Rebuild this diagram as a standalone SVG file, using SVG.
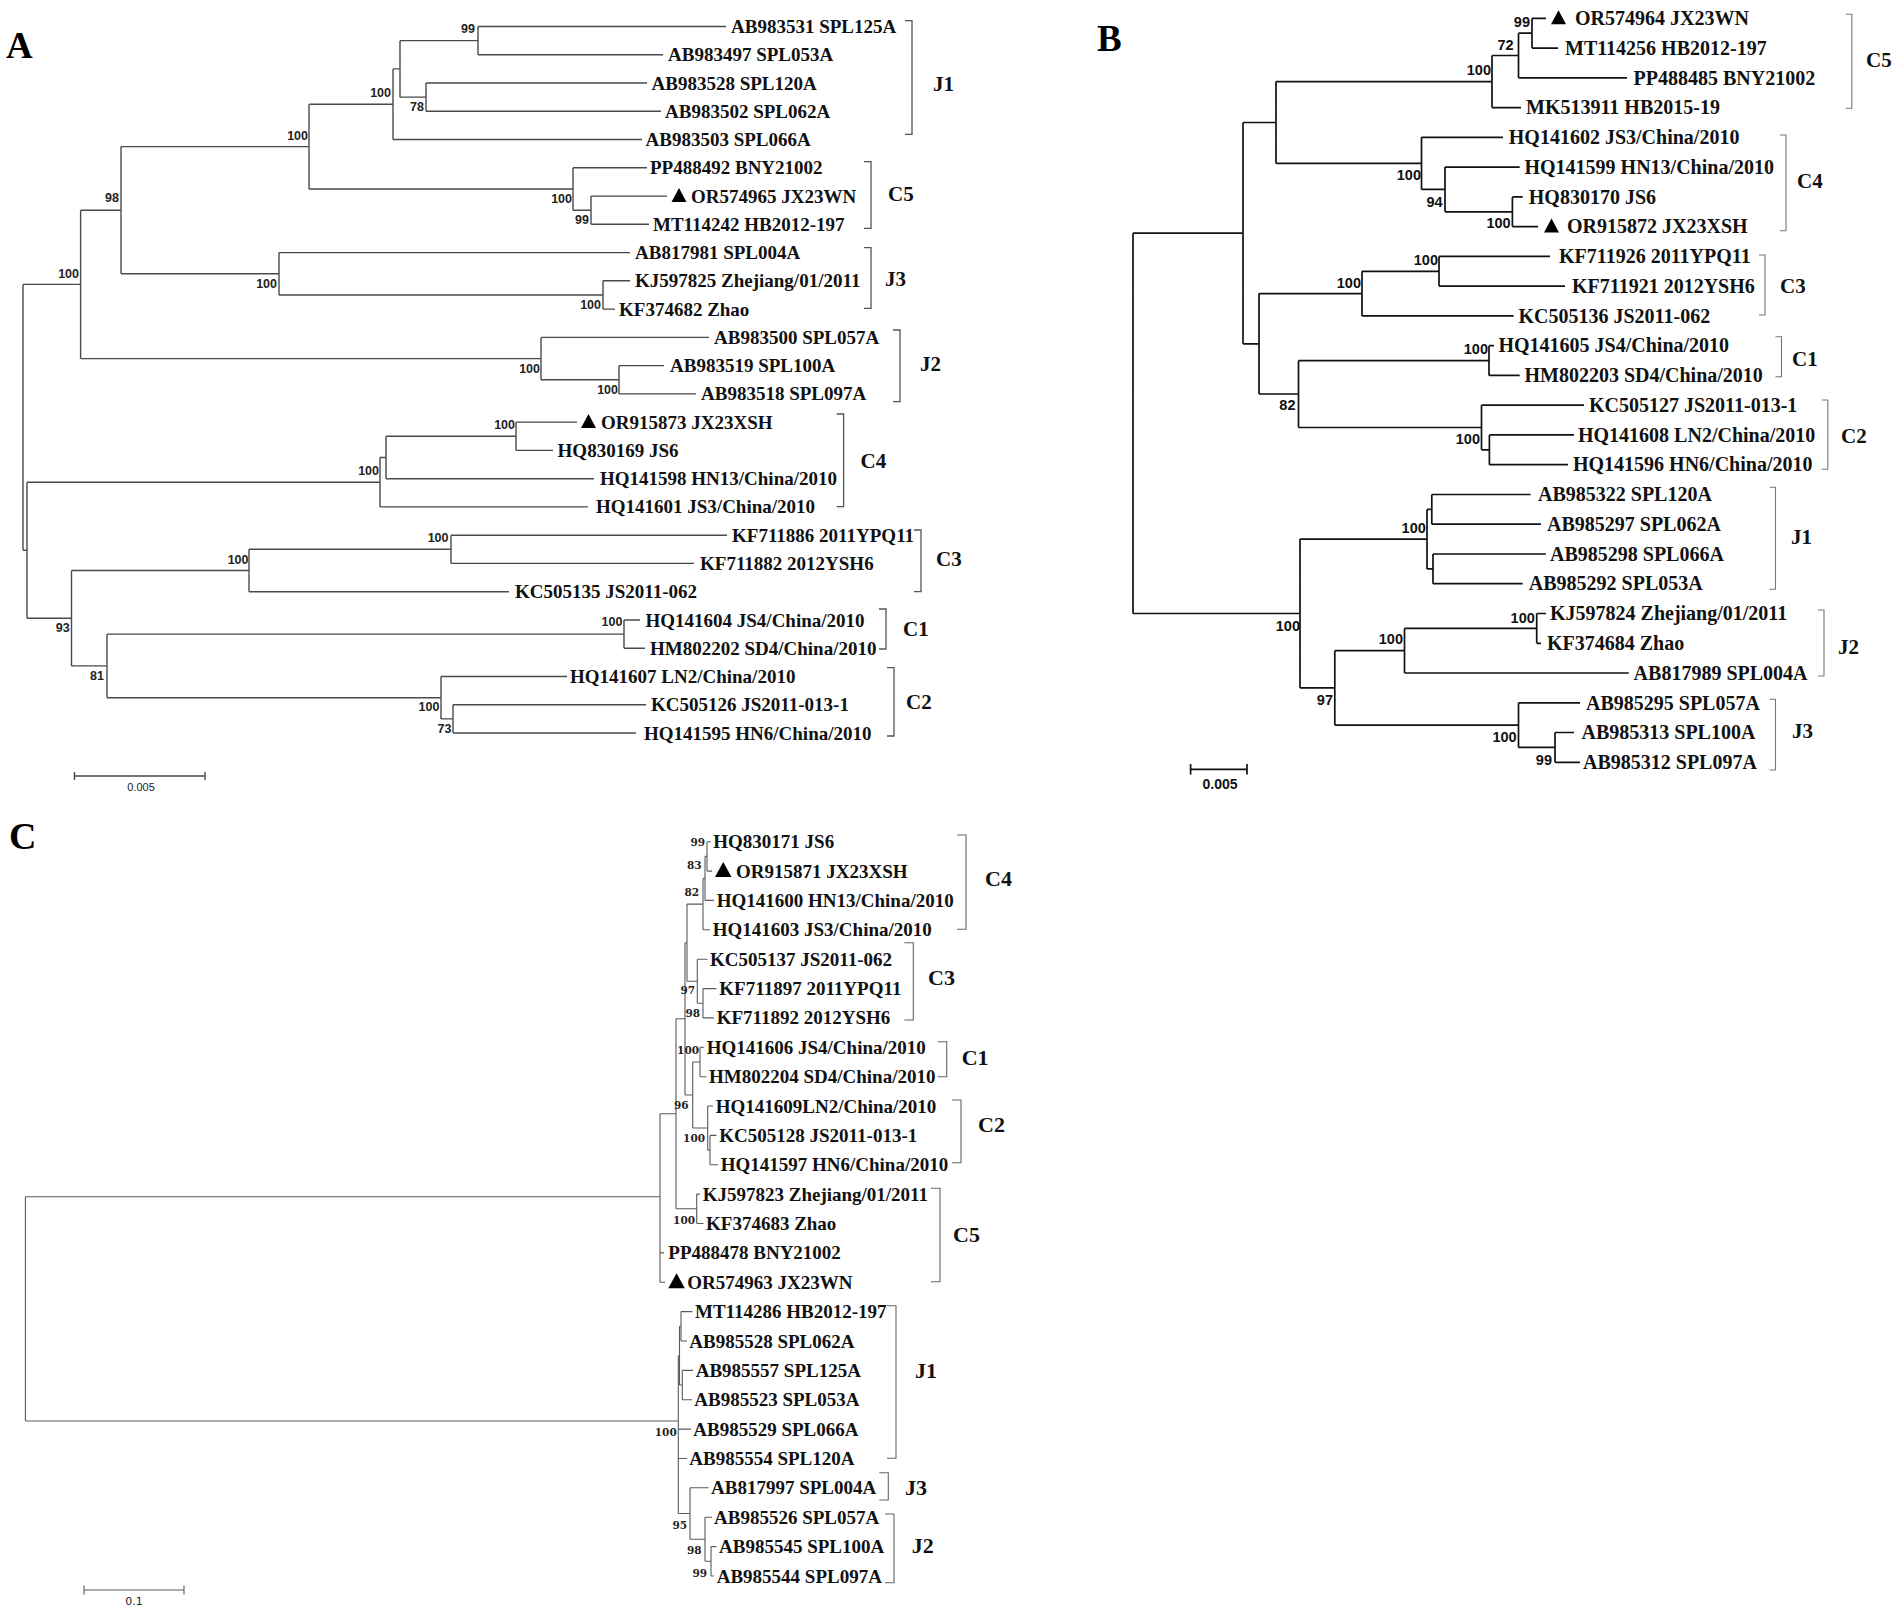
<svg xmlns="http://www.w3.org/2000/svg" xmlns:xlink="http://www.w3.org/1999/xlink" width="1902" height="1613" viewBox="0 0 1902 1613">
<style>
.bg{fill:#fff}
.ta{stroke:#4a4a4a;stroke-width:1.4;fill:none}
.tb{stroke:#111;stroke-width:1.7;fill:none}
.tc{stroke:#5a5a5a;stroke-width:1.1;fill:none}
.bra{stroke:#555;stroke-width:1.3;fill:none}
.brb{stroke:#777;stroke-width:1.1;fill:none}
.brc{stroke:#666;stroke-width:1.1;fill:none}
.lf{font-family:"Liberation Serif","Times New Roman",serif;font-weight:bold;font-size:19px;fill:#111}
.lfb{font-family:"Liberation Serif","Times New Roman",serif;font-weight:bold;font-size:20px;fill:#111}
.cl{font-family:"Liberation Serif","Times New Roman",serif;font-weight:bold;font-size:21px;fill:#111}
.clc{font-family:"Liberation Serif","Times New Roman",serif;font-weight:bold;font-size:22px;fill:#111}
.pl{font-family:"Liberation Serif","Times New Roman",serif;font-weight:bold;font-size:37px;fill:#000}
.bsa{font-family:"Liberation Sans",Arial,sans-serif;font-weight:bold;font-size:12.5px;fill:#222;text-anchor:end}
.bsb{font-family:"Liberation Sans",Arial,sans-serif;font-weight:bold;font-size:14.5px;fill:#111;text-anchor:end}
.bsc{font-family:"DejaVu Serif",serif;font-weight:bold;font-size:10.5px;fill:#222;text-anchor:end}
.sca{font-family:"Liberation Sans",Arial,sans-serif;font-size:11px;fill:#222;text-anchor:middle}
.scb{font-family:"Liberation Sans",Arial,sans-serif;font-weight:bold;font-size:14px;fill:#111;text-anchor:middle}
.scc{font-family:"DejaVu Sans",sans-serif;font-size:11px;fill:#222;text-anchor:middle}
.tri{fill:#000}
</style>
<defs>
<path id="tri" d="M0,0 L15,0 L7.5,-14 Z"/>
<path id="tric" d="M0,0 L16.5,0 L8.25,-15 Z"/>
</defs>
<rect class="bg" x="0" y="0" width="1902" height="1613"/>

<!-- ================= PANEL A ================= -->
<g id="panelA">
<text id="A-title" class="pl" x="6" y="58">A</text>
<g id="A-connectors">
<path class="ta" d="M23,284.4 V550.2 M23,284.4 H80.6 M23,550.2 H27
M80.6,210.2 V358.6 M80.6,210.2 H121 M80.6,358.6 H541
M121,146.6 V273.8 M121,146.6 H309 M121,273.8 H279
M309,104.2 V189 M309,104.2 H393 M309,189 H573
M393,68.9 V139.5 M393,68.9 H400 M393,139.5 H642
M400,40.65 V97.15 M400,40.65 H478 M400,97.15 H426
M478,26.5 V54.8 M478,26.5 H726 M478,54.8 H663
M426,83 V111.3 M426,83 H647 M426,111.3 H661
M573,167.8 V210.2 M573,167.8 H647 M573,210.2 H591
M591,196.1 V224.3 M591,196.1 H667 M591,224.3 H649
M279,252.6 V295 M279,252.6 H630 M279,295 H603
M603,280.8 V309.1 M603,280.8 H630 M603,309.1 H615
M541,337.4 V379.8 M541,337.4 H709 M541,379.8 H619
M619,365.6 V393.9 M619,365.6 H664 M619,393.9 H696
M27,482.2 V618.2 M27,482.2 H380 M27,618.2 H71.5
M380,457.5 V506.9 M380,457.5 H386 M380,506.9 H588
M386,436.3 V478.7 M386,436.3 H516 M386,478.7 H594
M516,422.1 V450.4 M516,422.1 H577 M516,450.4 H553
M71.5,570.5 V665.9 M71.5,570.5 H249 M71.5,665.9 H107
M249,549.3 V591.7 M249,549.3 H451 M249,591.7 H509
M451,535.2 V563.4 M451,535.2 H727 M451,563.4 H694
M107,634.1 V697.7 M107,634.1 H624 M107,697.7 H441
M624,620 V648.2 M624,620 H640 M624,648.2 H645
M441,676.5 V718.9 M441,676.5 H567 M441,718.9 H453
M453,704.7 V733 M453,704.7 H646 M453,733 H636"/>
</g>
<g id="A-bootstrap">
<text class="bsa" x="475" y="33">99</text>
<text class="bsa" x="391" y="97">100</text>
<text class="bsa" x="424" y="111">78</text>
<text class="bsa" x="308" y="139.5">100</text>
<text class="bsa" x="119" y="202">98</text>
<text class="bsa" x="79" y="277.5">100</text>
<text class="bsa" x="572" y="203">100</text>
<text class="bsa" x="589" y="223.5">99</text>
<text class="bsa" x="277" y="288">100</text>
<text class="bsa" x="601" y="309">100</text>
<text class="bsa" x="540" y="373">100</text>
<text class="bsa" x="618" y="393.5">100</text>
<text class="bsa" x="515" y="429">100</text>
<text class="bsa" x="379" y="474.5">100</text>
<text class="bsa" x="448.5" y="542">100</text>
<text class="bsa" x="248.5" y="563.5">100</text>
<text class="bsa" x="69.7" y="632">93</text>
<text class="bsa" x="622.4" y="626">100</text>
<text class="bsa" x="104" y="680">81</text>
<text class="bsa" x="439.4" y="711">100</text>
<text class="bsa" x="451.5" y="732.5">73</text>
</g>
<g id="A-leaves">
<g id="A-L0"><text class="lf" x="731" y="33">AB983531 SPL125A</text></g>
<g id="A-L1"><text class="lf" x="668" y="61.3">AB983497 SPL053A</text></g>
<g id="A-L2"><text class="lf" x="651.5" y="89.5">AB983528 SPL120A</text></g>
<g id="A-L3"><text class="lf" x="665" y="117.8">AB983502 SPL062A</text></g>
<g id="A-L4"><text class="lf" x="645.5" y="146">AB983503 SPL066A</text></g>
<g id="A-L5"><text class="lf" x="650" y="174.3">PP488492 BNY21002</text></g>
<g id="A-L6"><use href="#tri" class="tri" x="671.5" y="202.1"/><text class="lf" x="691" y="202.6">OR574965 JX23WN</text></g>
<g id="A-L7"><text class="lf" x="653" y="230.8">MT114242 HB2012-197</text></g>
<g id="A-L8"><text class="lf" x="635" y="259.1">AB817981 SPL004A</text></g>
<g id="A-L9"><text class="lf" x="635" y="287.3">KJ597825 Zhejiang/01/2011</text></g>
<g id="A-L10"><text class="lf" x="619" y="315.6">KF374682 Zhao</text></g>
<g id="A-L11"><text class="lf" x="714" y="343.9">AB983500 SPL057A</text></g>
<g id="A-L12"><text class="lf" x="670" y="372.1">AB983519 SPL100A</text></g>
<g id="A-L13"><text class="lf" x="701" y="400.4">AB983518 SPL097A</text></g>
<g id="A-L14"><use href="#tri" class="tri" x="581" y="428.1"/><text class="lf" x="601" y="428.6">OR915873 JX23XSH</text></g>
<g id="A-L15"><text class="lf" x="557.6" y="456.9">HQ830169 JS6</text></g>
<g id="A-L16"><text class="lf" x="600" y="485.2">HQ141598 HN13/China/2010</text></g>
<g id="A-L17"><text class="lf" x="596" y="513.4">HQ141601 JS3/China/2010</text></g>
<g id="A-L18"><text class="lf" x="732" y="541.7">KF711886 2011YPQ11</text></g>
<g id="A-L19"><text class="lf" x="700" y="569.9">KF711882 2012YSH6</text></g>
<g id="A-L20"><text class="lf" x="515" y="598.2">KC505135 JS2011-062</text></g>
<g id="A-L21"><text class="lf" x="645.5" y="626.5">HQ141604 JS4/China/2010</text></g>
<g id="A-L22"><text class="lf" x="650" y="654.7">HM802202 SD4/China/2010</text></g>
<g id="A-L23"><text class="lf" x="570" y="683">HQ141607 LN2/China/2010</text></g>
<g id="A-L24"><text class="lf" x="651" y="711.2">KC505126 JS2011-013-1</text></g>
<g id="A-L25"><text class="lf" x="644" y="739.5">HQ141595 HN6/China/2010</text></g>
</g>
<g id="A-clades">
<path class="bra" d="M905,20.7 H912 V134.3 H905 M864,161.7 H871 V228.3 H864 M864,247.7 H871 V308.3 H864 M893,330 H900 V401.7 H893 M836.6,414 H843.6 V506.7 H836.6 M914,530 H921 V591.7 H914 M879,609 H886 V649 H879 M887,667.7 H894 V736 H887"/>
<text class="cl" x="933" y="90.5">J1</text>
<text class="cl" x="888" y="200.5">C5</text>
<text class="cl" x="885" y="285.5">J3</text>
<text class="cl" x="920" y="370.5">J2</text>
<text class="cl" x="860.6" y="467.5">C4</text>
<text class="cl" x="936" y="565.5">C3</text>
<text class="cl" x="903" y="635.5">C1</text>
<text class="cl" x="906" y="709">C2</text>
</g>
<g id="A-scale">
<path class="ta" d="M74.5,776 H205 M74.5,772 V780 M205,772 V780"/>
<text class="sca" x="141" y="791">0.005</text>
</g>
</g>

<!-- ================= PANEL B ================= -->
<g id="panelB">
<text id="B-title" class="pl" x="1097" y="51">B</text>
<g id="B-connectors">
<path class="tb" d="M1133,233.2 V613.5 M1133,233.2 H1243 M1133,613.5 H1300
M1243,122.5 V343.8 M1243,122.5 H1276 M1243,343.8 H1259
M1276,81.6 V163.4 M1276,81.6 H1492 M1276,163.4 H1421.5
M1492,55.5 V107.6 M1492,55.5 H1518.5 M1492,107.6 H1521
M1518.5,33.2 V77.8 M1518.5,33.2 H1532 M1518.5,77.8 H1627
M1532,18.3 V48.1 M1532,18.3 H1546 M1532,48.1 H1558
M1421.5,137.3 V189.4 M1421.5,137.3 H1503 M1421.5,189.4 H1445
M1445,167.1 V211.8 M1445,167.1 H1519.7 M1445,211.8 H1512.4
M1512.4,196.9 V226.6 M1512.4,196.9 H1522.7 M1512.4,226.6 H1538
M1259,293.6 V394 M1259,293.6 H1362 M1259,394 H1298.5
M1362,271.3 V315.9 M1362,271.3 H1439 M1362,315.9 H1513.6
M1439,256.4 V286.1 M1439,256.4 H1550 M1439,286.1 H1565
M1298.5,360.6 V427.5 M1298.5,360.6 H1489 M1298.5,427.5 H1481.5
M1489,345.7 V375.4 M1489,345.7 H1494 M1489,375.4 H1519.7
M1481.5,405.2 V449.8 M1481.5,405.2 H1584 M1481.5,449.8 H1489.4
M1489.4,434.9 V464.7 M1489.4,434.9 H1574 M1489.4,464.7 H1568
M1300,539.1 V687.9 M1300,539.1 H1427 M1300,687.9 H1334.8
M1427,509.4 V568.9 M1427,509.4 H1431.8 M1427,568.9 H1433
M1431.8,494.5 V524.2 M1431.8,494.5 H1530.6 M1431.8,524.2 H1541
M1433,554 V583.7 M1433,554 H1545.8 M1433,583.7 H1522.7
M1334.8,650.7 V725.1 M1334.8,650.7 H1404.5 M1334.8,725.1 H1518.5
M1404.5,628.4 V673 M1404.5,628.4 H1536.7 M1404.5,673 H1628.8
M1536.7,613.5 V643.3 M1536.7,613.5 H1546 M1536.7,643.3 H1541
M1518.5,702.8 V747.4 M1518.5,702.8 H1580 M1518.5,747.4 H1555
M1555,732.5 V762.3 M1555,732.5 H1574 M1555,762.3 H1580"/>
</g>
<g id="B-bootstrap">
<text class="bsb" x="1530" y="26.5">99</text>
<text class="bsb" x="1513.6" y="50">72</text>
<text class="bsb" x="1491" y="75">100</text>
<text class="bsb" x="1421" y="180">100</text>
<text class="bsb" x="1442.7" y="206.7">94</text>
<text class="bsb" x="1510.6" y="228.3">100</text>
<text class="bsb" x="1438" y="265">100</text>
<text class="bsb" x="1361" y="287.7">100</text>
<text class="bsb" x="1488" y="354">100</text>
<text class="bsb" x="1295.5" y="410">82</text>
<text class="bsb" x="1480" y="444.3">100</text>
<text class="bsb" x="1425.8" y="533.3">100</text>
<text class="bsb" x="1300" y="631">100</text>
<text class="bsb" x="1534.8" y="622.7">100</text>
<text class="bsb" x="1403" y="644.3">100</text>
<text class="bsb" x="1333" y="705">97</text>
<text class="bsb" x="1516.7" y="742.3">100</text>
<text class="bsb" x="1552" y="765">99</text>
</g>
<g id="B-leaves">
<g id="B-L0"><use href="#tri" class="tri" x="1551" y="24.3"/><text class="lfb" x="1575" y="25">OR574964 JX23WN</text></g>
<g id="B-L1"><text class="lfb" x="1565" y="54.8">MT114256 HB2012-197</text></g>
<g id="B-L2"><text class="lfb" x="1633.6" y="84.5">PP488485 BNY21002</text></g>
<g id="B-L3"><text class="lfb" x="1526" y="114.3">MK513911 HB2015-19</text></g>
<g id="B-L4"><text class="lfb" x="1508.8" y="144">HQ141602 JS3/China/2010</text></g>
<g id="B-L5"><text class="lfb" x="1524.5" y="173.8">HQ141599 HN13/China/2010</text></g>
<g id="B-L6"><text class="lfb" x="1528.8" y="203.6">HQ830170 JS6</text></g>
<g id="B-L7"><use href="#tri" class="tri" x="1544" y="232.6"/><text class="lfb" x="1567" y="233.3">OR915872 JX23XSH</text></g>
<g id="B-L8"><text class="lfb" x="1559" y="263.1">KF711926 2011YPQ11</text></g>
<g id="B-L9"><text class="lfb" x="1572" y="292.8">KF711921 2012YSH6</text></g>
<g id="B-L10"><text class="lfb" x="1518.5" y="322.6">KC505136 JS2011-062</text></g>
<g id="B-L11"><text class="lfb" x="1498.5" y="352.4">HQ141605 JS4/China/2010</text></g>
<g id="B-L12"><text class="lfb" x="1524.5" y="382.1">HM802203 SD4/China/2010</text></g>
<g id="B-L13"><text class="lfb" x="1589" y="411.9">KC505127 JS2011-013-1</text></g>
<g id="B-L14"><text class="lfb" x="1578" y="441.6">HQ141608 LN2/China/2010</text></g>
<g id="B-L15"><text class="lfb" x="1573" y="471.4">HQ141596 HN6/China/2010</text></g>
<g id="B-L16"><text class="lfb" x="1538" y="501.2">AB985322 SPL120A</text></g>
<g id="B-L17"><text class="lfb" x="1547" y="530.9">AB985297 SPL062A</text></g>
<g id="B-L18"><text class="lfb" x="1550" y="560.7">AB985298 SPL066A</text></g>
<g id="B-L19"><text class="lfb" x="1528.8" y="590.4">AB985292 SPL053A</text></g>
<g id="B-L20"><text class="lfb" x="1550" y="620.2">KJ597824 Zhejiang/01/2011</text></g>
<g id="B-L21"><text class="lfb" x="1547" y="650">KF374684 Zhao</text></g>
<g id="B-L22"><text class="lfb" x="1633.6" y="679.7">AB817989 SPL004A</text></g>
<g id="B-L23"><text class="lfb" x="1586" y="709.5">AB985295 SPL057A</text></g>
<g id="B-L24"><text class="lfb" x="1581.5" y="739.2">AB985313 SPL100A</text></g>
<g id="B-L25"><text class="lfb" x="1583" y="769">AB985312 SPL097A</text></g>
</g>
<g id="B-clades">
<path class="brb" d="M1845.8,14.3 H1851.8 V108.3 H1845.8 M1780,135 H1786 V230.7 H1780 M1759,255 H1765 V315 H1759 M1775.5,336.7 H1781.5 V376.7 H1775.5 M1821.8,400 H1827.8 V469.3 H1821.8 M1769.5,487.3 H1775.5 V589.3 H1769.5 M1818,610 H1824 V676 H1818 M1769.5,699.3 H1775.5 V770 H1769.5"/>
<text class="cl" x="1866" y="67">C5</text>
<text class="cl" x="1797" y="187.5">C4</text>
<text class="cl" x="1780" y="292.5">C3</text>
<text class="cl" x="1792" y="366">C1</text>
<text class="cl" x="1841" y="442.5">C2</text>
<text class="cl" x="1791" y="544">J1</text>
<text class="cl" x="1838" y="654">J2</text>
<text class="cl" x="1792" y="737.5">J3</text>
</g>
<g id="B-scale">
<path class="tb" d="M1190.6,769.3 H1247 M1190.6,764 V774.5 M1247,764 V774.5"/>
<text class="scb" x="1220" y="789">0.005</text>
</g>
</g>

<!-- ================= PANEL C ================= -->
<g id="panelC">
<text id="C-title" class="pl" x="9" y="849" style="font-size:38px">C</text>
<g id="C-connectors">
<path class="tc" d="M25.4,1196.7 V1421 M25.4,1196.7 H660 M25.4,1421 H678.3
M660,1113.8 V1282.3 M660,1113.8 H676 M660,1252.9 H664 M660,1282.3 H665
M676,1018.8 V1208.8 M676,1018.8 H685 M676,1208.8 H696.7
M685,942.7 V1095 M685,942.7 H687 M685,1095 H692.7
M687,904.1 V981.2 M687,904.1 H703 M687,981.2 H697.3
M703,878.4 V929.8 M703,878.4 H705 M703,929.8 H710
M705,856.4 V900.4 M705,856.4 H707 M705,900.4 H714
M707,841.7 V871.1 M707,841.7 H711 M707,871.1 H712
M697.3,959.2 V1003.3 M697.3,959.2 H707.5 M697.3,1003.3 H703
M703,988.6 V1017.9 M703,988.6 H716.5 M703,1017.9 H714
M692.7,1062 V1128 M692.7,1062 H700 M692.7,1128 H707.7
M700,1047.3 V1076.7 M700,1047.3 H704 M700,1076.7 H706.5
M707.7,1106 V1150.1 M707.7,1106 H713 M707.7,1150.1 H710
M710,1135.4 V1164.8 M710,1135.4 H716.5 M710,1164.8 H718
M696.7,1194.1 V1223.5 M696.7,1194.1 H700 M696.7,1223.5 H703.5
M678.3,1355.7 V1513.5 M678.3,1355.7 H679.5 M678.3,1429.1 H691 M678.3,1458.5 H687 M678.3,1513.5 H690
M679.5,1326.3 V1385 M679.5,1326.3 H681 M679.5,1385 H682.3
M681,1311.6 V1341 M681,1311.6 H692.5 M681,1341 H687
M682.3,1370.4 V1399.7 M682.3,1370.4 H693 M682.3,1399.7 H692
M690,1487.8 V1539.3 M690,1487.8 H708.5 M690,1539.3 H705
M705,1517.2 V1561.3 M705,1517.2 H712 M705,1561.3 H711
M711,1546.6 V1576 M711,1546.6 H716.5 M711,1576 H714"/>
</g>
<g id="C-bootstrap">
<text class="bsc" x="705" y="845.5">99</text>
<text class="bsc" x="701.7" y="869">83</text>
<text class="bsc" x="699" y="895.5">82</text>
<text class="bsc" x="695" y="994">97</text>
<text class="bsc" x="700" y="1016.5">98</text>
<text class="bsc" x="699" y="1054">100</text>
<text class="bsc" x="688.5" y="1109">96</text>
<text class="bsc" x="705" y="1142">100</text>
<text class="bsc" x="695" y="1224">100</text>
<text class="bsc" x="676.7" y="1435.5">100</text>
<text class="bsc" x="687" y="1529">95</text>
<text class="bsc" x="701.7" y="1554">98</text>
<text class="bsc" x="707" y="1576.5">99</text>
</g>
<g id="C-leaves">
<g id="C-L0"><text class="lf" x="713.3" y="848.2">HQ830171 JS6</text></g>
<g id="C-L1"><use href="#tric" class="tri" x="715" y="877.1"/><text class="lf" x="736" y="877.6">OR915871 JX23XSH</text></g>
<g id="C-L2"><text class="lf" x="716.7" y="906.9">HQ141600 HN13/China/2010</text></g>
<g id="C-L3"><text class="lf" x="712.7" y="936.3">HQ141603 JS3/China/2010</text></g>
<g id="C-L4"><text class="lf" x="710" y="965.7">KC505137 JS2011-062</text></g>
<g id="C-L5"><text class="lf" x="719.3" y="995.1">KF711897 2011YPQ11</text></g>
<g id="C-L6"><text class="lf" x="716.7" y="1024.4">KF711892 2012YSH6</text></g>
<g id="C-L7"><text class="lf" x="706.7" y="1053.8">HQ141606 JS4/China/2010</text></g>
<g id="C-L8"><text class="lf" x="709" y="1083.2">HM802204 SD4/China/2010</text></g>
<g id="C-L9"><text class="lf" x="715.7" y="1112.5">HQ141609LN2/China/2010</text></g>
<g id="C-L10"><text class="lf" x="719.3" y="1141.9">KC505128 JS2011-013-1</text></g>
<g id="C-L11"><text class="lf" x="720.7" y="1171.3">HQ141597 HN6/China/2010</text></g>
<g id="C-L12"><text class="lf" x="702.7" y="1200.6">KJ597823 Zhejiang/01/2011</text></g>
<g id="C-L13"><text class="lf" x="706" y="1230">KF374683 Zhao</text></g>
<g id="C-L14"><text class="lf" x="668.3" y="1259.4">PP488478 BNY21002</text></g>
<g id="C-L15"><use href="#tric" class="tri" x="668.3" y="1288.3"/><text class="lf" x="687.3" y="1288.8">OR574963 JX23WN</text></g>
<g id="C-L16"><text class="lf" x="695" y="1318.1">MT114286 HB2012-197</text></g>
<g id="C-L17"><text class="lf" x="689.3" y="1347.5">AB985528 SPL062A</text></g>
<g id="C-L18"><text class="lf" x="695.7" y="1376.9">AB985557 SPL125A</text></g>
<g id="C-L19"><text class="lf" x="694.3" y="1406.2">AB985523 SPL053A</text></g>
<g id="C-L20"><text class="lf" x="693.3" y="1435.6">AB985529 SPL066A</text></g>
<g id="C-L21"><text class="lf" x="689.3" y="1465">AB985554 SPL120A</text></g>
<g id="C-L22"><text class="lf" x="711" y="1494.3">AB817997 SPL004A</text></g>
<g id="C-L23"><text class="lf" x="714" y="1523.7">AB985526 SPL057A</text></g>
<g id="C-L24"><text class="lf" x="719" y="1553.1">AB985545 SPL100A</text></g>
<g id="C-L25"><text class="lf" x="716.7" y="1582.5">AB985544 SPL097A</text></g>
</g>
<g id="C-clades">
<path class="brc" d="M957,835 H966 V929.3 H957 M904.3,942.7 H913.3 V1020 H904.3 M937.7,1041.7 H946.7 V1076.7 H937.7 M952,1100 H961 V1162.7 H952 M931,1188.3 H940 V1281.7 H931 M887,1305.7 H896 V1458.3 H887 M879.3,1472.7 H888.3 V1500 H879.3 M885,1514 H894 V1582.7 H885"/>
<text class="clc" x="985" y="885.5">C4</text>
<text class="clc" x="928" y="985">C3</text>
<text class="clc" x="961.7" y="1065">C1</text>
<text class="clc" x="978" y="1132">C2</text>
<text class="clc" x="953" y="1241.5">C5</text>
<text class="clc" x="915" y="1378">J1</text>
<text class="clc" x="905" y="1495">J3</text>
<text class="clc" x="911.7" y="1553">J2</text>
</g>
<g id="C-scale">
<path class="tc" d="M84,1590 H184 M84,1585.5 V1594.5 M184,1585.5 V1594.5"/>
<text class="scc" x="134" y="1605">0.1</text>
</g>
</g>
</svg>
